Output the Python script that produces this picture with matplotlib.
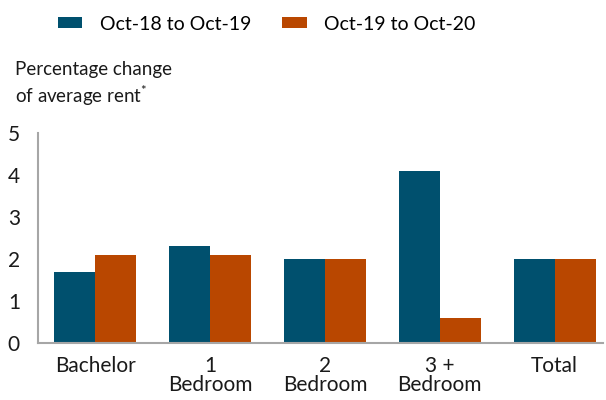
import numpy as np
import matplotlib.pyplot as plt

plt.rcParams['font.family'] = ['Lato', 'DejaVu Sans']
plt.rcParams['mathtext.default'] = 'regular'

# data
categories = ["Bachelor", "1\nBedroom", "2\nBedroom", "3 +\nBedroom", "Total"]
series_names = ["Oct-18 to Oct-19", "Oct-19 to Oct-20"]
oct18_19 = [1.7, 2.3, 2.0, 4.1, 2.0]
oct19_20 = [2.1, 2.1, 2.0, 0.6, 2.0]
y_ticks = [0, 1, 2, 3, 4, 5]

navy = "#00506E"
orange = "#B94700"

fig = plt.figure(figsize=(6.06, 4.0), dpi=100)
ax = fig.add_axes([0.0627, 0.1425, 0.932, 0.525])

x = np.arange(len(categories))
w = 0.357
ax.bar(x - w/2, oct18_19, w, color=navy, label=series_names[0])
ax.bar(x + w/2, oct19_20, w, color=orange, label=series_names[1])

ax.set_xlim(-0.5, 4.42)
ax.set_ylim(0, 5)
ax.set_yticks(y_ticks)
ax.set_xticks(x)
ax.set_xticklabels(categories, linespacing=0.95)
ax.tick_params(axis='both', length=0, labelsize=15, colors='#1a1a1a')
ax.tick_params(axis='y', pad=13)
ax.tick_params(axis='x', pad=9)

for s in ['top', 'right']:
    ax.spines[s].set_visible(False)
for s in ['left', 'bottom']:
    ax.spines[s].set_color('#A6A6A6')
    ax.spines[s].set_linewidth(1.5)

fig.text(0.025, 0.848, "Percentage change\nof average rent$^{*}$", fontsize=13.5,
         va='top', ha='left', linespacing=1.3, color='#1a1a1a')

fig.legend(loc='upper center', bbox_to_anchor=(0.44, 1.005), ncol=2, frameon=False,
           fontsize=14, handlelength=1.25, handleheight=0.5, columnspacing=1.6,
           handletextpad=0.9)

fig.savefig("out.png", dpi=100)
